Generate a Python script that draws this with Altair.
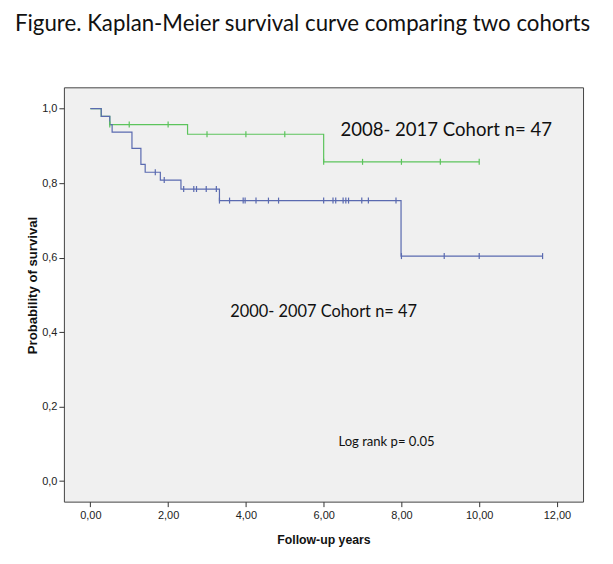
import altair as alt
import pandas as pd

# Kaplan-Meier step points (time in years, survival probability)
g_time = [0.0, 0.28, 0.50, 2.50, 6.00, 10.00]
g_surv = [1.000, 0.979, 0.957, 0.931, 0.857, 0.857]
g_cens = [0.50, 1.00, 2.00, 3.00, 4.00, 5.00, 6.00, 7.00, 8.00, 9.00, 10.00]

b_time = [0.0, 0.28, 0.50, 0.56, 1.07, 1.30, 1.41, 1.80, 2.33, 3.32, 7.99, 11.63]
b_surv = [1.000, 0.979, 0.957, 0.937, 0.893, 0.850, 0.829, 0.808, 0.784, 0.753, 0.604, 0.604]
b_cens = [1.67, 1.90, 2.40, 2.66, 2.73, 2.98, 3.24, 3.32, 3.58, 3.93, 3.98, 4.26,
          4.58, 4.84, 6.00, 6.24, 6.31, 6.50, 6.57, 6.64, 6.98, 7.15, 7.86, 8.00,
          9.10, 10.00, 11.63]

cohorts = ["2000-2007", "2008-2017"]
colors = ["#5a6ab0", "#5cc45c"]

ann_text = ["2008- 2017 Cohort n= 47", "2000- 2007 Cohort n= 47", "Log rank p= 0.05"]
ann_x = [6.43, 3.60, 6.38]
ann_y = [0.942, 0.454, 0.104]
ann_size = [18.6, 16.4, 13.1]

x_ticks = [0, 2, 4, 6, 8, 10, 12]
y_ticks = [0.0, 0.2, 0.4, 0.6, 0.8, 1.0]


def surv_at(times, survs, t):
    s = survs[0]
    for ti, si in zip(times, survs):
        if ti <= t:
            s = si
    return s


lines = pd.DataFrame(
    [{"t": t, "s": s, "cohort": cohorts[1]} for t, s in zip(g_time, g_surv)]
    + [{"t": t, "s": s, "cohort": cohorts[0]} for t, s in zip(b_time, b_surv)]
)
cens = pd.DataFrame(
    [{"t": t, "s": surv_at(g_time, g_surv, t), "cohort": cohorts[1]} for t in g_cens]
    + [{"t": t, "s": surv_at(b_time, b_surv, t), "cohort": cohorts[0]} for t in b_cens]
)
ann = pd.DataFrame({"text": ann_text, "x": ann_x, "y": ann_y, "size": ann_size})

xs = alt.Scale(domain=[-0.68, 12.67], nice=False, zero=False)
ys = alt.Scale(domain=[-0.055, 1.057], nice=False, zero=False)
color = alt.Color("cohort:N", scale=alt.Scale(domain=cohorts, range=colors), legend=None)

xaxis = alt.Axis(
    values=x_ticks, labelExpr="replace(format(datum.value, '.2f'), '.', ',')",
    grid=False, domain=False, tickColor="#333", tickSize=5, labelFont="Liberation Sans",
    labelFontSize=11, labelColor="#222", labelPadding=3,
    title="Follow-up years", titleFont="Liberation Sans", titleFontSize=12.3,
    titleFontWeight="bold", titleColor="#111", titleY=38, titleBaseline="middle",
)
yaxis = alt.Axis(
    values=y_ticks, labelExpr="replace(format(datum.value, '.1f'), '.', ',')",
    grid=False, domain=False, tickColor="#333", tickSize=5, labelFont="Liberation Sans",
    labelFontSize=11, labelColor="#222", labelPadding=2,
    title="Probability of survival", titleFont="Liberation Sans", titleFontSize=13.2,
    titleFontWeight="bold", titleColor="#111", titleX=-31, titleY=198,
    titleAngle=-90, titleBaseline="middle", titleAlign="center",
)

base_line = alt.Chart(lines).mark_line(interpolate="step-after", strokeWidth=1.2).encode(
    x=alt.X("t:Q", scale=xs, axis=xaxis),
    y=alt.Y("s:Q", scale=ys, axis=yaxis),
    color=color,
    detail="cohort:N",
)

ticks = alt.Chart(cens).mark_point(shape="M0,-1L0,1", size=36, strokeWidth=1.2, filled=False, opacity=1).encode(
    x=alt.X("t:Q", scale=xs),
    y=alt.Y("s:Q", scale=ys),
    color=color,
)

texts = alt.Chart(ann).mark_text(align="left", baseline="middle", font="Lato", color="#111").encode(
    x=alt.X("x:Q", scale=xs),
    y=alt.Y("y:Q", scale=ys),
    text="text:N",
    size=alt.Size("size:Q", scale=None, legend=None),
)

chart = (
    alt.layer(base_line, ticks, texts)
    .properties(
        width=520,
        height=415,
        autosize=alt.AutoSizeParams(type="none"),
        padding={"left": 56, "top": 79, "right": 22, "bottom": 50},
        background="white",
        title=alt.TitleParams(
            "Figure. Kaplan-Meier survival curve comparing two cohorts",
            anchor="start", frame="group", dx=-49, offset=52, font="Lato", fontSize=22.3,
            fontWeight="normal", color="#111",
        ),
    )
    .configure_view(fill="#f0f0f0", stroke="#444", strokeWidth=1)
)

chart.save("out.html", embed_options={"renderer": "svg", "actions": False})
